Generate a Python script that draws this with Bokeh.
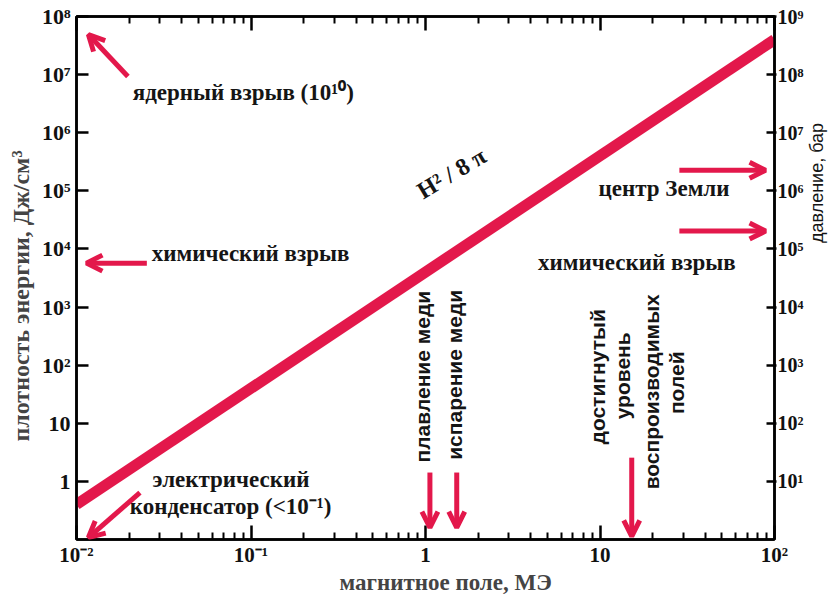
import math
from bokeh.plotting import figure
from bokeh.models import Range1d, LogScale, LogAxis, FixedTicker, Label, Arrow, OpenHead
from bokeh.embed import file_html
from bokeh.resources import INLINE

# ---- data ----
field_x = [0.01, 100.0]          # магнитное поле, МЭ
energy_y = [0.4, 4.0e7]          # H^2/8π, Дж/см^3

x_ticks = [0.01, 0.1, 1.0, 10.0, 100.0]
x_tick_labels = ["10⁻²", "10⁻¹", "1", "10", "10²"]
x_minor = [m * 10.0 ** k for k in range(-2, 2) for m in range(2, 10)]

y_ticks = [1.0, 10.0, 1e2, 1e3, 1e4, 1e5, 1e6, 1e7, 1e8]
y_tick_labels = ["1", "10", "10²", "10³", "10⁴", "10⁵", "10⁶", "10⁷", "10⁸"]

p_ticks = [1e1, 1e2, 1e3, 1e4, 1e5, 1e6, 1e7, 1e8, 1e9]
p_tick_labels = ["10¹", "10²", "10³", "10⁴", "10⁵", "10⁶", "10⁷", "10⁸", "10⁹"]

x_title = "магнитное   поле,   МЭ"
y_title = "плотность    энергии,    Дж/см³"
p_title = "давление,    бар"

# annotations (data coordinates)
serif_notes = [
    # text, x, y, angle(deg), align, size
    ("ядерный   взрыв   (10¹⁰)", 0.0210, 4.95e6, 0, "left", 23),
    ("химический  взрыв", 0.0270, 8.5e3, 0, "left", 23),
    ("центр   Земли", 25.1, 1.11e5, 0, "center", 23),
    ("химический  взрыв", 16.9, 5.96e3, 0, "center", 23),
    ("электрический", 0.0273, 1.07, 0, "left", 23),
    ("конденсатор (<10⁻¹)", 0.0202, 0.369, 0, "left", 23),
    ("H² / 8 π", 1.41, 2.0e5, 31, "center", 24),
]
sans_notes = [
    ("плавление   меди", 0.955, 80.0, 90, "center"),
    ("испарение   меди", 1.47, 86.0, 90, "center"),
    ("достигнутый", 9.64, 63.0, 90, "center"),
    ("уровень", 13.5, 65.6, 90, "center"),
    ("воспроизводимых", 19.8, 34.8, 90, "center"),
    ("полей", 27.4, 49.8, 90, "center"),
]
arrows = [
    # x_start, y_start, x_end, y_end
    (0.0197, 9.3e6, 0.0117, 4.9e7),
    (0.0253, 5.7e3, 0.0114, 5.7e3),
    (28.5, 2.26e5, 88.9, 2.26e5),
    (28.5, 2.03e4, 88.9, 2.03e4),
    (1.06, 1.42, 1.06, 0.16),
    (1.51, 1.42, 1.51, 0.16),
    (15.2, 2.56, 15.2, 0.113),
    (0.0231, 0.641, 0.0117, 0.108),
]

RED = "#e3184b"
SERIF = "Liberation Serif"
SANS = "Liberation Sans"
NBSP = "\u00a0"

p = figure(width=840, height=597, x_axis_type="log", y_axis_type="log",
           x_range=Range1d(0.01, 100), y_range=Range1d(0.1, 1e8),
           output_backend="svg", toolbar_location=None,
           min_border_left=76, min_border_right=59, min_border_top=16, min_border_bottom=57)
p.xgrid.visible = False
p.ygrid.visible = False
p.outline_line_color = "black"
p.outline_line_width = 2.5
p.background_fill_color = "white"
p.border_fill_color = "white"

p.line(field_x, energy_y, line_color=RED, line_width=11)

def style_axis(ax, tin, tout, size="22px"):
    ax.axis_line_width = 2.5
    ax.axis_line_color = "black"
    ax.major_tick_in = tin
    ax.major_tick_out = tout
    ax.major_tick_line_width = 2.5
    ax.minor_tick_line_width = 2
    ax.major_label_text_font = SERIF
    ax.major_label_text_font_style = "bold"
    ax.major_label_text_font_size = size
    ax.major_label_text_color = "#111111"

xa = p.xaxis[0]
xa.ticker = FixedTicker(ticks=x_ticks, minor_ticks=x_minor)
xa.major_label_overrides = dict(zip(x_ticks, x_tick_labels))
style_axis(xa, 14, 0, "21px")
xa.minor_tick_in = 7
xa.minor_tick_out = 0
xa.major_label_standoff = 3
xa.axis_label = NBSP * 11 + x_title
xa.axis_label_text_font = SERIF
xa.axis_label_text_font_style = "bold"
xa.axis_label_text_font_size = "23px"
xa.axis_label_standoff = 0

top = LogAxis(ticker=FixedTicker(ticks=x_ticks, minor_ticks=x_minor))
style_axis(top, 14, 0)
top.minor_tick_in = 7
top.minor_tick_out = 0
top.major_label_text_font_size = "1px"
top.major_label_text_color = None
top.major_label_standoff = 0
p.add_layout(top, "above")

ya = p.yaxis[0]
ya.ticker = FixedTicker(ticks=y_ticks, minor_ticks=[])
ya.major_label_overrides = dict(zip(y_ticks, y_tick_labels))
style_axis(ya, 12, 0)
ya.minor_tick_in = 0
ya.minor_tick_out = 0
ya.major_label_standoff = 6
ya.axis_label = y_title
ya.axis_label_text_font = SERIF
ya.axis_label_text_font_style = "bold"
ya.axis_label_text_font_size = "24px"
ya.axis_label_standoff = 5

p.extra_y_ranges = {"bar": Range1d(1, 1e9)}
p.extra_y_scales = {"bar": LogScale()}
ra = LogAxis(y_range_name="bar", ticker=FixedTicker(ticks=p_ticks, minor_ticks=[]))
ra.major_label_overrides = dict(zip(p_ticks, p_tick_labels))
style_axis(ra, 8, 2, "20px")
ra.minor_tick_in = 0
ra.minor_tick_out = 0
ra.major_label_standoff = 1
ra.axis_label = NBSP * 7 + p_title
ra.axis_label_text_font = SANS
ra.axis_label_text_font_style = "normal"
ra.axis_label_text_font_size = "18px"
ra.axis_label_text_color = "#151515"
ra.axis_label_standoff = 11
try:
    ra.axis_label_orientation = math.pi / 2
except Exception:
    pass
p.add_layout(ra, "right")

for txt, x, y, ang, al, sz in serif_notes:
    p.add_layout(Label(x=x, y=y, text=txt, angle=math.radians(ang), text_align=al,
                       text_baseline="middle", text_font=SERIF, text_font_style="bold",
                       text_font_size=f"{sz}px", text_color="#151515"))
for txt, x, y, ang, al in sans_notes:
    p.add_layout(Label(x=x, y=y, text=txt, angle=math.radians(ang), text_align=al,
                       text_baseline="middle", text_font=SANS, text_font_style="bold",
                       text_font_size="21px", text_color="#151515"))
for x0, y0, x1, y1 in arrows:
    p.add_layout(Arrow(x_start=x0, y_start=y0, x_end=x1, y_end=y1,
                       line_color=RED, line_width=5,
                       end=OpenHead(size=16, line_color=RED, line_width=5)))

open("out.html", "w").write(file_html(p, INLINE))
